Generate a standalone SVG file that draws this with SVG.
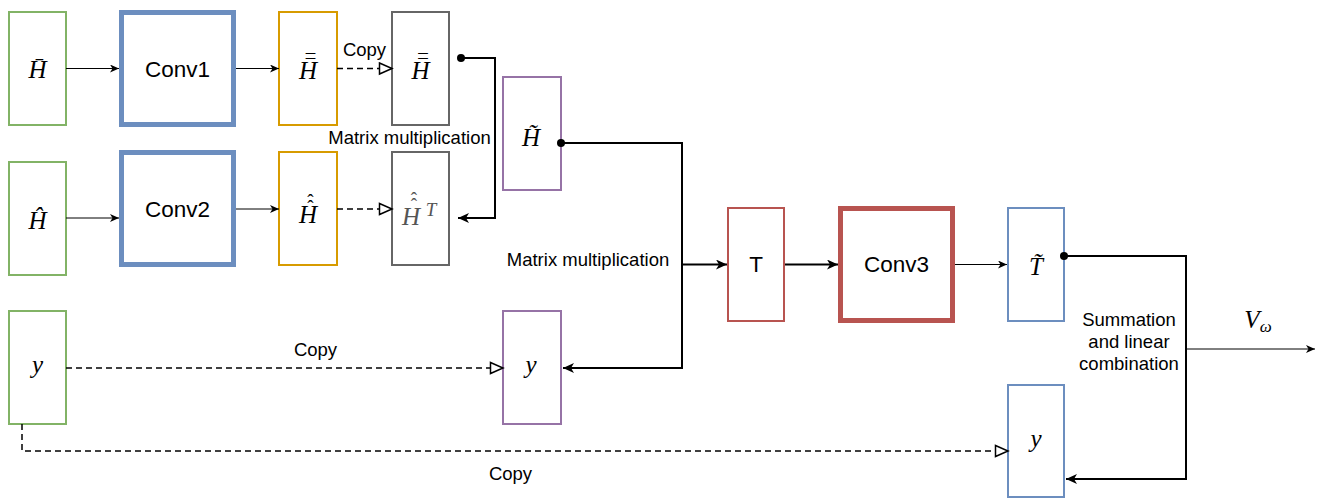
<svg xmlns="http://www.w3.org/2000/svg" width="1332" height="500" viewBox="0 0 1332 500">
<style>
.lbl{font-family:"Liberation Sans",Arial,sans-serif;font-size:18.5px;fill:#000;text-anchor:middle}
.big{font-family:"Liberation Sans",Arial,sans-serif;font-size:22.5px;fill:#000;text-anchor:middle}
.m{font-family:"Liberation Serif","Times New Roman",serif;font-style:italic;font-size:25px;fill:#000;text-anchor:middle}
.a{font-style:normal;font-size:19px}
.box{fill:#fff;stroke-width:2}
.thick{fill:#fff;stroke-width:5}
.g{stroke:#82b366}.b{stroke:#6c8ebf}.o{stroke:#d79b00}.gr{stroke:#666666}.p{stroke:#9673a6}.r{stroke:#b85450}
.thin{fill:none;stroke:#000;stroke-width:1}
.bold{fill:none;stroke:#000;stroke-width:2}
.dash{fill:none;stroke:#000;stroke-width:1.5;stroke-dasharray:6 4}
</style>
<defs>
<marker id="ac" markerWidth="10" markerHeight="8" refX="9" refY="4" orient="auto" markerUnits="userSpaceOnUse"><path d="M0,0 L9,4 L0,8 L2.5,4 Z" fill="#000"/></marker>
<marker id="ab" markerWidth="12" markerHeight="10" refX="11" refY="5" orient="auto" markerUnits="userSpaceOnUse"><path d="M0,0 L11,5 L0,10 L3,5 Z" fill="#000"/></marker>
<marker id="ao" markerWidth="16" markerHeight="14" refX="14" refY="7" orient="auto" markerUnits="userSpaceOnUse"><path d="M1.5,1.5 L14,7 L1.5,12.5 Z" fill="#fff" stroke="#000" stroke-width="1.5"/></marker>
<marker id="dot" markerWidth="10" markerHeight="10" refX="5" refY="5" orient="auto" markerUnits="userSpaceOnUse"><circle cx="5" cy="5" r="4" fill="#000"/></marker>
</defs>
<rect width="1332" height="500" fill="#fff"/>

<g id="n-hbar">
<rect class="box g" x="9" y="12" width="57" height="113"/>
<text class="m" x="37.5" y="78">H&#x0304;</text>
</g>
<g id="n-conv1">
<rect class="thick b" x="121.5" y="12.5" width="112" height="112"/>
<text class="big" x="177.5" y="77">Conv1</text>
</g>
<g id="n-hbb1">
<rect class="box o" x="279" y="12" width="58" height="113"/>
<text class="m"><tspan x="308" y="79">H</tspan><tspan class="a" x="310.5" y="67">¯</tspan><tspan class="a" x="310.5" y="72">¯</tspan></text>
</g>
<g id="n-hbb2">
<rect class="box gr" x="392" y="12" width="57" height="113"/>
<text class="m"><tspan x="420.5" y="79">H</tspan><tspan class="a" x="423" y="67">¯</tspan><tspan class="a" x="423" y="72">¯</tspan></text>
</g>
<g id="n-hhat">
<rect class="box g" x="9" y="162" width="57" height="113"/>
<text class="m" x="37.5" y="229">H&#x0302;</text>
</g>
<g id="n-conv2">
<rect class="thick b" x="121.5" y="152.5" width="112" height="112"/>
<text class="big" x="177.5" y="217">Conv2</text>
</g>
<g id="n-hhh1">
<rect class="box o" x="279" y="152" width="58" height="113"/>
<text class="m"><tspan x="308" y="223">H</tspan><tspan class="a" x="310.5" y="207">ˆ</tspan><tspan class="a" x="310.5" y="213">ˆ</tspan></text>
</g>
<g id="n-hhht">
<rect class="box gr" x="392" y="152" width="57" height="113"/>
<text class="m" style="fill:#555"><tspan x="411" y="225">H</tspan><tspan class="a" x="414" y="205">ˆ</tspan><tspan class="a" x="414" y="211">ˆ</tspan><tspan x="431" y="216" font-size="19">T</tspan></text>
</g>
<g id="n-htilde">
<rect class="box p" x="503" y="77" width="58" height="113"/>
<text class="m" x="531" y="146">H&#x0303;</text>
</g>
<g id="n-y1">
<rect class="box g" x="9" y="311" width="57" height="113"/>
<text class="m" x="37.5" y="373">y</text>
</g>
<g id="n-y2">
<rect class="box p" x="503" y="311" width="58" height="113"/>
<text class="m" x="531" y="373">y</text>
</g>
<g id="n-T">
<rect class="box r" x="728" y="208" width="56" height="113"/>
<text class="big" x="756" y="272">T</text>
</g>
<g id="n-conv3">
<rect class="thick r" x="840.5" y="208.5" width="112" height="112"/>
<text class="big" x="896.5" y="272">Conv3</text>
</g>
<g id="n-ttilde">
<rect class="box b" x="1008" y="208" width="56" height="113"/>
<text class="m" x="1036" y="275">T&#x0303;</text>
</g>
<g id="n-y3">
<rect class="box b" x="1008" y="385" width="56" height="112"/>
<text class="m" x="1036" y="447">y</text>
</g>

<g id="connectors">
<line class="thin" x1="66" y1="68.5" x2="119" y2="68.5" marker-end="url(#ac)"/>
<line class="thin" x1="236" y1="68.5" x2="279" y2="68.5" marker-end="url(#ac)"/>
<line class="dash" x1="337" y1="68.5" x2="392" y2="68.5" marker-end="url(#ao)"/>
<line class="thin" x1="66" y1="218" x2="119" y2="218" marker-end="url(#ac)"/>
<line class="thin" x1="236" y1="209" x2="279" y2="209" marker-end="url(#ac)"/>
<line class="dash" x1="337" y1="209" x2="392" y2="209" marker-end="url(#ao)"/>
<path class="bold" d="M461,58 H495 V218 H458" marker-start="url(#dot)" marker-end="url(#ab)"/>
<path class="bold" d="M561,143 H682 V368 H563" marker-start="url(#dot)" marker-end="url(#ab)"/>
<line class="bold" x1="682" y1="264.5" x2="727" y2="264.5" marker-end="url(#ab)"/>
<line class="bold" x1="785" y1="264.5" x2="838" y2="264.5" marker-end="url(#ab)"/>
<line class="thin" x1="955" y1="264.5" x2="1007" y2="264.5" marker-end="url(#ac)"/>
<path class="bold" d="M1064,256 H1186 V479 H1066" marker-start="url(#dot)" marker-end="url(#ab)"/>
<line class="thin" x1="1186" y1="349" x2="1315" y2="349" marker-end="url(#ac)"/>
<line class="dash" x1="66" y1="368" x2="503" y2="368" marker-end="url(#ao)"/>
<path class="dash" d="M22,424 V451 H1008" marker-end="url(#ao)"/>
<text class="lbl" x="364.5" y="56">Copy</text>
<text class="lbl" x="409.5" y="144">Matrix multiplication</text>
<text class="lbl" x="588" y="266">Matrix multiplication</text>
<text class="lbl" x="315.5" y="356">Copy</text>
<text class="lbl" x="510.5" y="480">Copy</text>
<text class="lbl" x="1129" y="326">Summation</text>
<text class="lbl" x="1129" y="348">and linear</text>
<text class="lbl" x="1129" y="370">combination</text>
<text class="m" x="1258" y="328" font-size="27">V<tspan font-size="17" dy="4">ω</tspan></text>
</g>
</svg>
